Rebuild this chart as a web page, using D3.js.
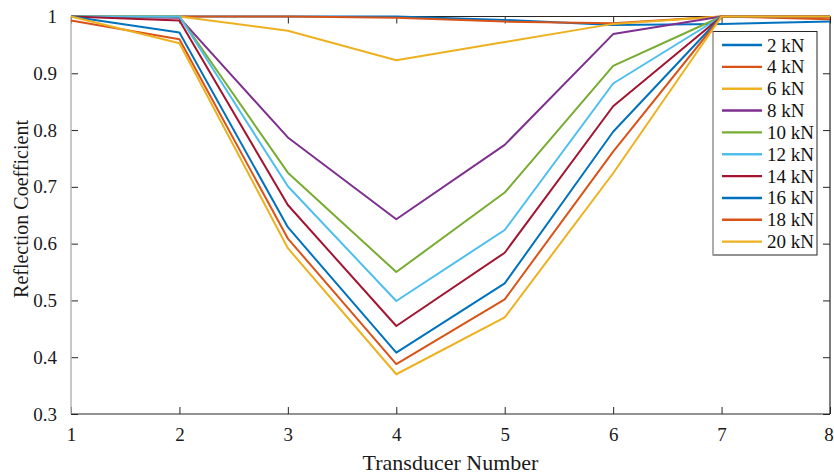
<!DOCTYPE html>
<html>
<head>
<meta charset="utf-8">
<script src="https://cdn.jsdelivr.net/npm/d3@7"></script>
<style>
  body { margin: 0; background: #fff; }
  svg { display: block; }
  svg text { font-family: "Liberation Serif", "Times New Roman", serif; }
</style>
</head>
<body>
<script>
// transducer positions and load cases
const transducers = [1, 2, 3, 4, 5, 6, 7, 8];
const loads = ["2 kN", "4 kN", "6 kN", "8 kN", "10 kN", "12 kN", "14 kN", "16 kN", "18 kN", "20 kN"];
const colors = ["#0072BD", "#D95319", "#EDB120", "#7E2F8E", "#77AC30",
                "#4DBEEE", "#A2142F", "#0072BD", "#D95319", "#EDB120"];

// reflection coefficient per load
const r2kN  = [1.000, 1.000, 1.000, 1.000, 0.994, 0.985, 0.987, 0.991];
const r4kN  = [1.000, 1.000, 1.000, 0.998, 0.991, 0.988, 1.000, 0.995];
const r6kN  = [1.000, 1.000, 0.975, 0.923, 0.955, 0.987, 1.000, 1.000];
const r8kN  = [1.000, 0.998, 0.787, 0.643, 0.774, 0.969, 1.000, 1.000];
const r10kN = [1.000, 1.000, 0.725, 0.550, 0.690, 0.913, 1.000, 1.000];
const r12kN = [1.000, 1.000, 0.701, 0.499, 0.624, 0.882, 1.000, 1.000];
const r14kN = [1.000, 0.993, 0.668, 0.455, 0.584, 0.842, 1.000, 1.000];
const r16kN = [1.000, 0.972, 0.629, 0.408, 0.530, 0.797, 1.000, 1.000];
const r18kN = [0.993, 0.960, 0.609, 0.388, 0.502, 0.762, 1.000, 1.000];
const r20kN = [1.000, 0.953, 0.592, 0.370, 0.470, 0.724, 1.000, 1.000];
const series = [r2kN, r4kN, r6kN, r8kN, r10kN, r12kN, r14kN, r16kN, r18kN, r20kN];

const yTicks = [0.3, 0.4, 0.5, 0.6, 0.7, 0.8, 0.9, 1];

const W = 834, H = 475;
const M = { left: 71, right: 4, top: 16.5, bottom: 61 };
const TICK = 7;
const SERIF = '"Liberation Serif", "Times New Roman", serif';

const x = d3.scaleLinear().domain([1, 8]).range([M.left, W - M.right]);
const y = d3.scaleLinear().domain([0.3, 1]).range([H - M.bottom, M.top]);

const svg = d3.select("body").append("svg")
  .attr("width", W).attr("height", H)
  .attr("viewBox", [0, 0, W, H]);

// axes (box with ticks on all sides)
const axisStyle = g => {
  g.attr("font-family", SERIF).attr("font-size", 19);
  g.select(".domain").remove();
  g.selectAll(".tick line").attr("stroke", "#262626");
  g.selectAll(".tick text").attr("fill", "#1a1a1a")
    .attr("font-family", SERIF).attr("font-size", 19);
};

svg.append("g")
  .attr("transform", `translate(0,${y(0.3)})`)
  .call(d3.axisBottom(x).tickValues(transducers).tickFormat(d3.format("d"))
    .tickSizeInner(-TICK).tickSizeOuter(0).tickPadding(14))
  .call(axisStyle)
  .call(g => g.selectAll(".tick text").filter(d => d === 8).attr("dx", -1.5));

svg.append("g")
  .attr("transform", `translate(0,${y(1)})`)
  .call(d3.axisTop(x).tickValues(transducers).tickFormat("")
    .tickSizeInner(-TICK).tickSizeOuter(0))
  .call(axisStyle);

svg.append("g")
  .attr("transform", `translate(${x(1)},0)`)
  .call(d3.axisLeft(y).tickValues(yTicks).tickFormat(d => d === 1 ? "1" : d3.format(".1f")(d))
    .tickSizeInner(-TICK).tickSizeOuter(0).tickPadding(14))
  .call(axisStyle);

svg.append("g")
  .attr("transform", `translate(${x(8)},0)`)
  .call(d3.axisRight(y).tickValues(yTicks).tickFormat("")
    .tickSizeInner(-TICK).tickSizeOuter(0))
  .call(axisStyle);

// box lines
svg.append("line").attr("x1", x(1)).attr("x2", x(8)).attr("y1", y(0.3)).attr("y2", y(0.3))
  .attr("stroke", "#262626").attr("stroke-width", 1.2);
svg.append("line").attr("x1", x(1)).attr("x2", x(8)).attr("y1", y(1)).attr("y2", y(1))
  .attr("stroke", "#262626").attr("stroke-width", 1.2);
svg.append("line").attr("x1", x(8)).attr("x2", x(8)).attr("y1", y(1)).attr("y2", y(0.3))
  .attr("stroke", "#262626").attr("stroke-width", 1.2);
svg.append("line").attr("x1", x(1)).attr("x2", x(1)).attr("y1", y(1)).attr("y2", y(0.3))
  .attr("stroke", "#b5b5b5").attr("stroke-width", 1.5);

// data lines
const line = d3.line().x((d, i) => x(transducers[i])).y(d => y(d));
svg.append("g")
  .attr("fill", "none")
  .attr("stroke-width", 2)
  .attr("stroke-linejoin", "round")
  .selectAll("path")
  .data(series)
  .join("path")
  .attr("stroke", (d, i) => colors[i])
  .attr("d", line);

// axis titles
svg.append("text")
  .attr("x", (x(1) + x(8)) / 2).attr("y", 470)
  .attr("text-anchor", "middle").attr("font-family", SERIF)
  .attr("font-size", 22).attr("fill", "#1a1a1a")
  .text("Transducer Number");

svg.append("text")
  .attr("transform", `translate(28,209) rotate(-90)`)
  .attr("text-anchor", "middle").attr("font-family", SERIF)
  .attr("font-size", 20).attr("fill", "#1a1a1a")
  .text("Reflection Coefficient");

// legend
const lg = svg.append("g").attr("transform", "translate(713,31.5)");
lg.append("rect").attr("width", 104).attr("height", 223.5)
  .attr("fill", "#fff").attr("stroke", "#262626").attr("stroke-width", 1);
lg.append("line").attr("x1", 0).attr("x2", 0).attr("y1", 0).attr("y2", 223.5)
  .attr("stroke", "#b5b5b5").attr("stroke-width", 1.5);
const rowH = 21.85;
const item = lg.selectAll("g.item").data(loads).join("g")
  .attr("class", "item")
  .attr("transform", (d, i) => `translate(0,${13.5 + i * rowH})`);
item.append("line").attr("x1", 9).attr("x2", 49)
  .attr("stroke", (d, i) => colors[i]).attr("stroke-width", 2.4);
item.append("text").attr("x", 54).attr("y", 6.5)
  .attr("font-family", SERIF).attr("font-size", 19)
  .attr("fill", "#111").text(d => d);
</script>
</body>
</html>
